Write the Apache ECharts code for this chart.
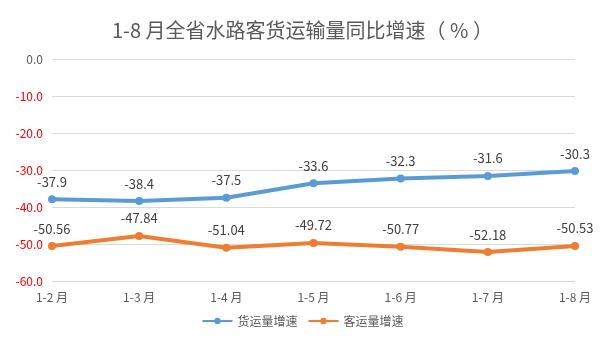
<!DOCTYPE html>
<html>
<head>
<meta charset="utf-8">
<script src="https://cdn.jsdelivr.net/npm/echarts@6/dist/echarts.min.js"></script>
<style>
  html, body { margin: 0; padding: 0; background: #fff; }
  #chart { width: 605px; height: 340px; }
</style>
</head>
<body>
<div id="chart"></div>
<script>
// Monthly periods (cumulative from January)
const months = ['1-2 月', '1-3 月', '1-4 月', '1-5 月', '1-6 月', '1-7 月', '1-8 月'];
// Year-on-year growth of waterway freight volume (%)
const freightGrowth = [-37.9, -38.4, -37.5, -33.6, -32.3, -31.6, -30.3];
// Year-on-year growth of waterway passenger volume (%)
const passengerGrowth = [-50.56, -47.84, -51.04, -49.72, -50.77, -52.18, -50.53];

const chart = echarts.init(document.getElementById('chart'));
const font = '"Noto Sans CJK SC", "Noto Sans", sans-serif';

const lineSeries = (name, data, color) => ({
  name,
  type: 'line',
  data,
  symbol: 'circle',
  symbolSize: 8,
  lineStyle: { width: 4, color },
  itemStyle: { color },
  label: {
    show: true,
    position: 'top',
    distance: 7,
    color: '#404040',
    fontSize: 13,
    fontFamily: font
  }
});

chart.setOption({
  animation: false,
  title: {
    text: '1-8 月全省水路客货运输量同比增速（ % ）',
    left: 'center',
    top: 15,
    textStyle: { color: '#595959', fontSize: 20, fontWeight: 'normal', fontFamily: font }
  },
  grid: { left: 52, right: 30, top: 59, bottom: 59 },
  xAxis: {
    type: 'category',
    data: months,
    boundaryGap: false,
    axisLine: { show: false },
    axisTick: { show: false },
    axisLabel: { color: '#595959', fontSize: 12, fontFamily: font, margin: 10 }
  },
  yAxis: {
    type: 'value',
    min: -60,
    max: 0,
    interval: 10,
    axisLine: { show: false },
    axisTick: { show: false },
    splitLine: { lineStyle: { color: '#d9d9d9', width: 1 } },
    axisLabel: {
      fontSize: 12,
      fontFamily: font,
      margin: 9,
      formatter: v => v.toFixed(1),
      color: v => (Number(v) < 0 ? '#ff0000' : '#595959')
    }
  },
  legend: {
    bottom: 8,
    left: 'center',
    itemWidth: 30,
    itemHeight: 8,
    itemGap: 10,
    textStyle: { color: '#595959', fontSize: 12, fontFamily: font }
  },
  series: [
    lineSeries('货运量增速', freightGrowth, '#5b9bd5'),
    lineSeries('客运量增速', passengerGrowth, '#ed7d31')
  ]
});
</script>
</body>
</html>
